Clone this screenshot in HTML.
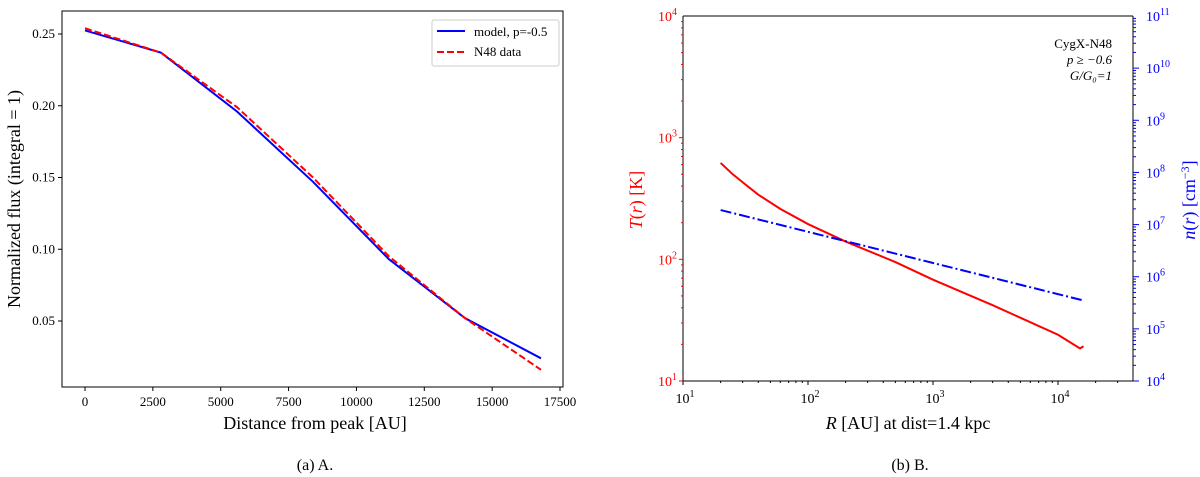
<!DOCTYPE html>
<html><head><meta charset="utf-8"><style>
body{margin:0;background:#fff;}
svg{display:block;font-family:"Liberation Serif",serif;}
</style></head><body>
<svg id="fig" width="1200" height="477" viewBox="0 0 1200 477" xmlns="http://www.w3.org/2000/svg">
<g id="left"></g>
<g id="right"></g>
<text x="315" y="470" font-size="16" text-anchor="middle">(a) A.</text>
<text x="910" y="470" font-size="16" text-anchor="middle">(b) B.</text>
</svg>
<script>
const NS="http://www.w3.org/2000/svg";
// Panel A data
const distX=[0,2800,5600,8400,11200,14000,16800];
const modelY=[0.2525,0.237,0.196,0.147,0.093,0.052,0.024];
const dataY=[0.254,0.237,0.199,0.150,0.095,0.052,0.016];
const xTicksA=[0,2500,5000,7500,10000,12500,15000,17500];
const yTicksA=[0.05,0.10,0.15,0.20,0.25];
// Panel B data
const radT=[20,25,30,40,60,100,200,500,1000,3000,10000,15000,16000];
const tempT=[620,500,430,340,260,195,140,95,68,42,24,18.5,19.3];
const radN=[20,16000];
const densN=[1.9e7,3.5e5];
const xTicksB=[1,2,3,4];
const yTicksBL=[1,2,3,4];
const yTicksBR=[4,5,6,7,8,9,10,11];

function el(p,tag,a){const e=document.createElementNS(NS,tag);for(const k in a)e.setAttribute(k,a[k]);p.appendChild(e);return e;}
function txt(p,x,y,s,a){const t=el(p,'text',Object.assign({x:x,y:y},a||{}));t.textContent=s;return t;}

// ---- Panel A
const L=document.getElementById('left');
const aX0=62,aX1=563,aY0=11,aY1=387;
const xa=v=>85+v*(560-85)/17500;
const ya=v=>321-(v-0.05)*(321-34)/0.2;
el(L,'rect',{x:aX0,y:aY0,width:aX1-aX0,height:aY1-aY0,fill:'none',stroke:'#000','stroke-width':1});
xTicksA.forEach(v=>{const x=xa(v);el(L,'line',{x1:x,x2:x,y1:aY1,y2:aY1+4,stroke:'#000'});
 const t=txt(L,x,aY1+19,String(v),{'font-size':13,'text-anchor':'middle'});
 
 });
yTicksA.forEach(v=>{const y=ya(v);el(L,'line',{x1:aX0-4,x2:aX0,y1:y,y2:y,stroke:'#000'});
 const t=txt(L,aX0-7,y+4,v.toFixed(2),{'font-size':13,'text-anchor':'end'});
 
 });
let t1=txt(L,315,429,'Distance from peak [AU]',{'font-size':18,'text-anchor':'middle'});

let t2=txt(L,0,0,'Normalized flux (integral = 1)',{'font-size':18,'text-anchor':'middle',transform:'translate(20,199) rotate(-90)'});

const lm=el(L,'polyline',{points:distX.map((d,i)=>xa(d)+','+ya(modelY[i])).join(' '),fill:'none',stroke:'#0000ff','stroke-width':2});

const ld=el(L,'polyline',{points:distX.map((d,i)=>xa(d)+','+ya(dataY[i])).join(' '),fill:'none',stroke:'#ff0000','stroke-width':2,'stroke-dasharray':'7,3'});

const lg=el(L,'g',{});

el(lg,'rect',{x:432,y:20,width:127,height:46,fill:'#fff',stroke:'#ccc',rx:2});
el(lg,'line',{x1:437,x2:465,y1:31,y2:31,stroke:'#0000ff','stroke-width':2});
txt(lg,474,36,'model, p=-0.5',{'font-size':13});
el(lg,'line',{x1:437,x2:465,y1:52,y2:52,stroke:'#ff0000','stroke-width':2,'stroke-dasharray':'7,3'});
txt(lg,474,56,'N48 data',{'font-size':13});

// ---- Panel B
const R=document.getElementById('right');
const bX0=683,bX1=1133,bY0=16,bY1=381;
const dec=125;
const xb=v=>bX0+(Math.log10(v)-1)*dec;
const yT=v=>bY1-(Math.log10(v)-1)*(bY1-bY0)/3;
const yN=v=>bY1-(Math.log10(v)-4)*(bY1-bY0)/7;
el(R,'line',{x1:bX0,x2:bX1,y1:bY0,y2:bY0,stroke:'#000'});
el(R,'line',{x1:bX0,x2:bX1,y1:bY1,y2:bY1,stroke:'#000'});
el(R,'line',{x1:bX0,x2:bX0,y1:bY0,y2:bY1,stroke:'#000'});
el(R,'line',{x1:bX1,x2:bX1,y1:bY0,y2:bY1,stroke:'#000'});
function sup(p,x,y,b,e,c,anchor){const t=el(p,'text',{x:x,y:y,'font-size':14,fill:c,'text-anchor':anchor});
 t.appendChild(document.createTextNode(b));const s=document.createElementNS(NS,'tspan');s.setAttribute('dy','-6');s.setAttribute('font-size','10');s.textContent=e;t.appendChild(s);return t;}
for(let d=1;d<=4;d++){for(let m=1;m<10;m++){const v=Math.pow(10,d)*m;const x=xb(v);if(x>bX1)break;
 el(R,'line',{x1:x,x2:x,y1:bY1,y2:bY1+(m==1?4:2),stroke:'#000'});}}
xTicksB.forEach(d=>{const t=sup(R,xb(Math.pow(10,d))+2,bY1+22,'10',String(d),'#000','middle');
 });
for(let d=1;d<4;d++){for(let m=1;m<10;m++){const y=yT(Math.pow(10,d)*m);el(R,'line',{x1:bX0-(m==1?4:2),x2:bX0,y1:y,y2:y,stroke:'#ff0000'});}}
yTicksBL.forEach(d=>{const t=sup(R,bX0-6,yT(Math.pow(10,d))+5,'10',String(d),'#ff0000','end');
 });
for(let d=4;d<11;d++){for(let m=1;m<10;m++){const y=yN(Math.pow(10,d)*m);el(R,'line',{x1:bX1,x2:bX1+(m==1?6:3),y1:y,y2:y,stroke:'#0000ff'});}}
yTicksBR.forEach(d=>{const t=sup(R,bX1+13,yN(Math.pow(10,d))+5,'10',String(d),'#0000ff','start');
 });
const tc=el(R,'polyline',{points:radT.map((r,i)=>xb(r)+','+yT(tempT[i])).join(' '),fill:'none',stroke:'#ff0000','stroke-width':2});

const nc=el(R,'polyline',{points:radN.map((r,i)=>xb(r)+','+yN(densN[i])).join(' '),fill:'none',stroke:'#0000ff','stroke-width':2,'stroke-dasharray':'11,3,2,3'});

let t3=el(R,'text',{x:908,y:429,'font-size':18,'text-anchor':'middle'});
t3.innerHTML='<tspan font-style="italic">R</tspan> [AU] at dist=1.4 kpc';

let t4=el(R,'text',{x:0,y:0,'font-size':18,fill:'#ff0000','text-anchor':'middle',transform:'translate(642,200) rotate(-90)'});
t4.innerHTML='<tspan font-style="italic">T</tspan>(<tspan font-style="italic">r</tspan>) [K]';

let t5=el(R,'text',{x:0,y:0,'font-size':18,fill:'#0000ff','text-anchor':'middle',transform:'translate(1195,200) rotate(-90)'});
t5.innerHTML='<tspan font-style="italic">n</tspan>(<tspan font-style="italic">r</tspan>) [cm<tspan dy="-6" font-size="12">−3</tspan><tspan dy="6">]</tspan>';

const an=el(R,'g',{});

txt(an,1112,48,'CygX-N48',{'font-size':13,'text-anchor':'end'});
txt(an,1112,64,'p ≥ −0.6',{'font-size':13,'text-anchor':'end','font-style':'italic'});
txt(an,1112,80,'G/G₀=1',{'font-size':13,'text-anchor':'end','font-style':'italic'});
</script>
</body></html>
